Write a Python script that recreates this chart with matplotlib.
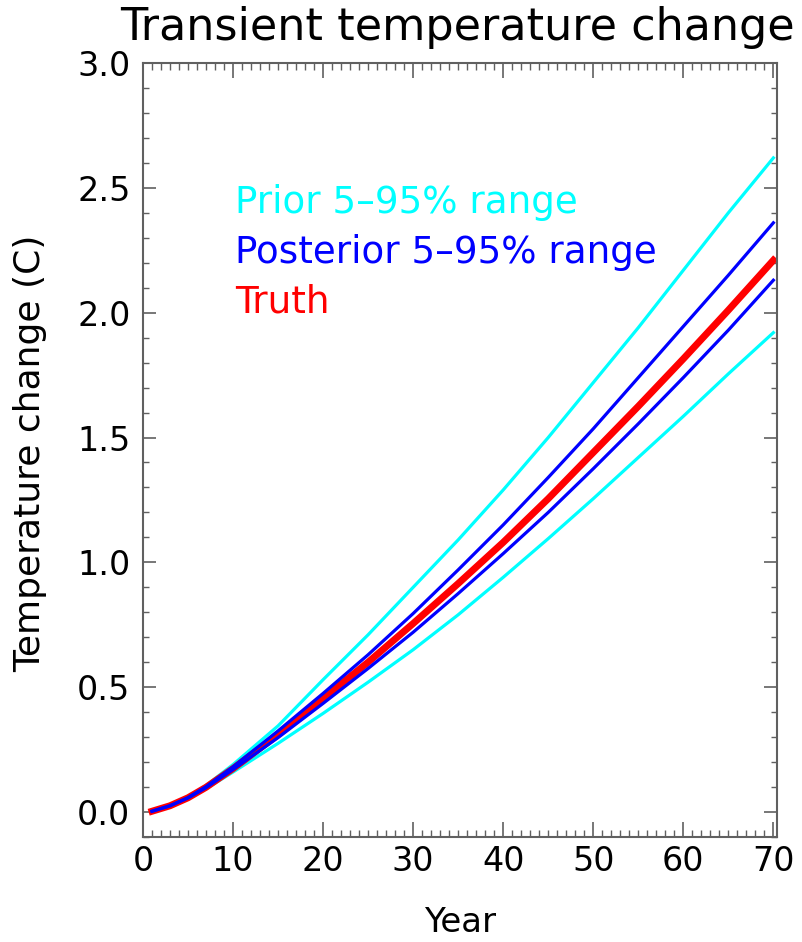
import matplotlib
matplotlib.use("Agg")
import matplotlib.pyplot as plt
from matplotlib.ticker import MultipleLocator

# years and the five curves
years = [1, 3, 5, 7, 10, 15, 20, 25, 30, 35, 40, 45, 50, 55, 60, 65, 70]

prior_hi = [0.003, 0.026, 0.06, 0.106, 0.19, 0.345, 0.53, 0.71, 0.90, 1.09, 1.29, 1.50, 1.72, 1.94, 2.17, 2.40, 2.62]
post_hi = [0.003, 0.025, 0.058, 0.102, 0.181, 0.325, 0.475, 0.63, 0.795, 0.97, 1.15, 1.34, 1.535, 1.74, 1.945, 2.15, 2.36]
truth = [0.003, 0.025, 0.057, 0.099, 0.174, 0.31, 0.455, 0.60, 0.755, 0.915, 1.08, 1.255, 1.44, 1.625, 1.815, 2.01, 2.21]
post_lo = [0.003, 0.025, 0.056, 0.097, 0.17, 0.298, 0.435, 0.575, 0.72, 0.875, 1.035, 1.20, 1.375, 1.555, 1.74, 1.93, 2.13]
prior_lo = [0.003, 0.024, 0.054, 0.093, 0.16, 0.275, 0.395, 0.52, 0.65, 0.79, 0.94, 1.095, 1.255, 1.42, 1.585, 1.755, 1.92]

labels = ["Prior 5\u201395% range", "Posterior 5\u201395% range", "Truth"]
label_y = [2.4, 2.2, 2.0]
label_colors = ["#00ffff", "#0000ff", "#ff0000"]

plt.rcParams["font.family"] = ["DejaVu Sans"]

fig = plt.figure(figsize=(8.02, 9.42), dpi=100)
ax = fig.add_axes([0.1783, 0.1115, 0.7905, 0.8216])

ax.plot(years, prior_hi, color="#00ffff", lw=2.3)
ax.plot(years, prior_lo, color="#00ffff", lw=2.3)
ax.plot(years, truth, color="#ff0000", lw=5)
ax.plot(years, post_hi, color="#0000ff", lw=2.3)
ax.plot(years, post_lo, color="#0000ff", lw=2.3)

for txt, yy, c in zip(labels, label_y, label_colors):
    ax.text(10.2, yy, txt, color=c, fontsize=26.8, va="baseline", ha="left")

ax.set_xlim(0, 70.4)
ax.set_ylim(-0.1, 3.0)
ax.xaxis.set_major_locator(MultipleLocator(10))
ax.xaxis.set_minor_locator(MultipleLocator(1))
ax.yaxis.set_major_locator(MultipleLocator(0.5))
ax.yaxis.set_minor_locator(MultipleLocator(0.1))
ax.yaxis.set_major_formatter(plt.FormatStrFormatter("%.1f"))

gray = "#606060"
for s in ax.spines.values():
    s.set_color(gray)
    s.set_linewidth(1.5)
ax.tick_params(which="both", direction="in", top=True, right=True, color=gray,
               labelsize=24, labelcolor="black")
ax.tick_params(axis="x", which="major", length=11, width=1.2, pad=6)
ax.tick_params(axis="x", which="minor", length=5, width=1.0)
ax.tick_params(axis="y", which="major", length=9.5, width=1.2, pad=9)
ax.tick_params(axis="y", which="minor", length=4, width=1.0)

fig.text(457 / 802, 1 - 40 / 942, "Transient temperature change", fontsize=32,
         ha="center", va="baseline")
fig.text(460 / 802, 10 / 942, "Year", fontsize=24.5, ha="center", va="baseline")
fig.text(30 / 802, 1 - 453 / 942, "Temperature change (C)", fontsize=26,
         rotation=90, ha="center", va="center")

fig.savefig("out.png", dpi=100)
